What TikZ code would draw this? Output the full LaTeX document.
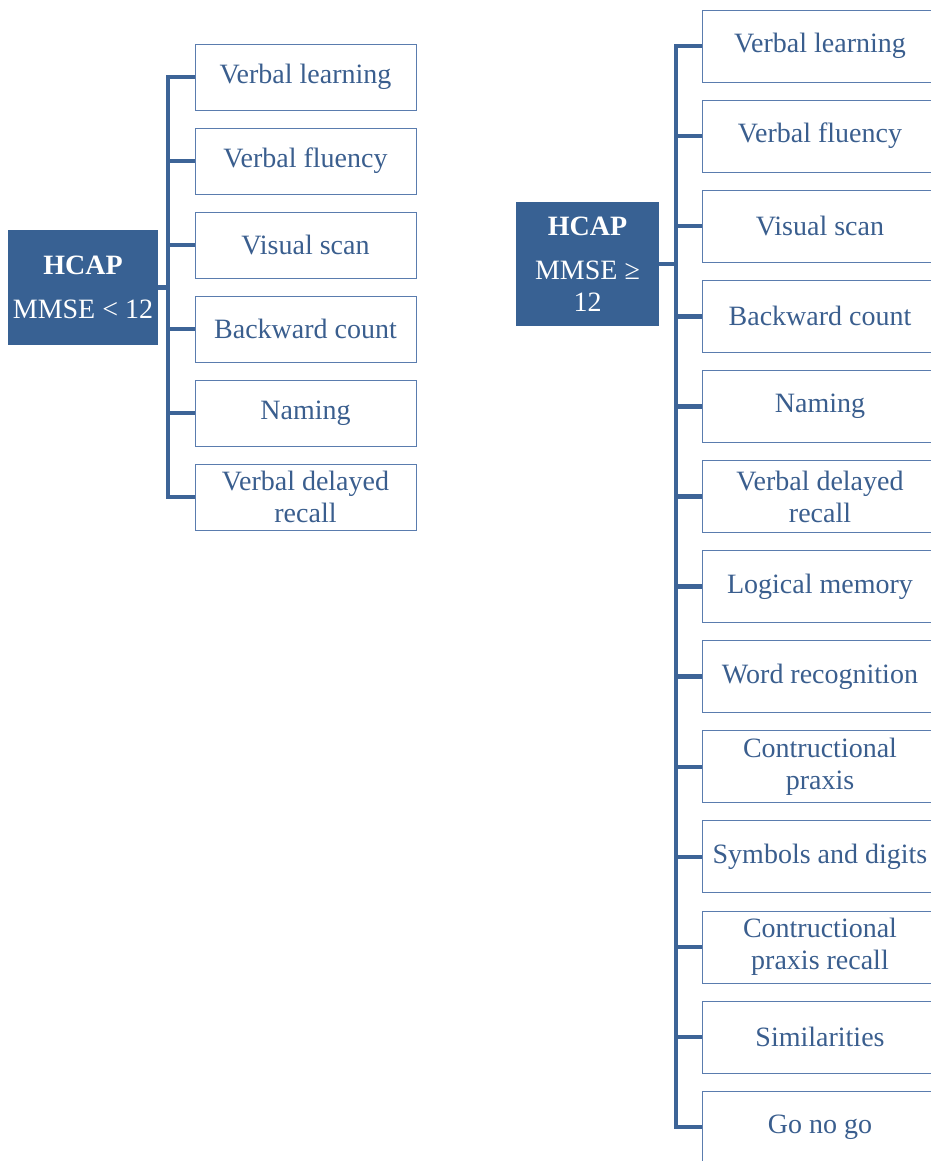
\documentclass[tikz,border=0pt]{standalone}
\usepackage{fontspec}
\setmainfont{Liberation Serif}
\usepackage{tikz}
\usetikzlibrary{positioning}
\definecolor{hcapfill}{HTML}{386193}
\definecolor{hcaptext}{HTML}{3A5E8E}
\definecolor{hcapline}{HTML}{3D6497}
\definecolor{hcapedge}{HTML}{5A7CAE}

\begin{document}
\begin{tikzpicture}[
x=1pt,y=1pt,
every node/.style={align=center,inner sep=0pt,font=\fontsize{28}{32}\selectfont},
root/.style={fill=hcapfill,text=white},
lbox/.style={draw=hcapedge,line width=0.9pt,text=hcaptext,minimum width=221pt,minimum height=66pt},
rbox/.style={draw=hcapedge,line width=0.9pt,text=hcaptext,minimum width=236pt,minimum height=72pt},
link/.style={draw=hcapline,line width=4.5pt}
]
\useasboundingbox (0,0) rectangle (930,-1161);

% left tree, MMSE < 12
\node (lroot) [root,minimum width=150pt,minimum height=115pt] at (83,-287.5) {\textbf{HCAP}\\[12pt]MMSE {<} 12};
\begin{scope}[node distance=17.1pt]
\node (l1) [lbox] at (305.5,-77) {Verbal learning};
\node (l2) [lbox,below=of l1] {Verbal fluency};
\node (l3) [lbox,below=of l2] {Visual scan};
\node (l4) [lbox,below=of l3] {Backward count};
\node (l5) [lbox,below=of l4] {Naming};
\node (l6) [lbox,below=of l5] {Verbal delayed\\recall};
\end{scope}

% right tree, MMSE >= 12
\node (rroot) [root,minimum width=143pt,minimum height=124pt] at (587.5,-264) {\textbf{HCAP}\\[12pt]MMSE ≥\\12};
\begin{scope}[node distance=17.2pt]
\node (r1) [rbox] at (820,-46) {Verbal learning};
\node (r2) [rbox,below=of r1] {Verbal fluency};
\node (r3) [rbox,below=of r2] {Visual scan};
\node (r4) [rbox,below=of r3] {Backward count};
\node (r5) [rbox,below=of r4] {Naming};
\node (r6) [rbox,below=of r5] {Verbal delayed\\recall};
\node (r7) [rbox,below=of r6] {Logical memory};
\node (r8) [rbox,below=of r7] {Word recognition};
\node (r9) [rbox,below=of r8] {Contructional\\praxis};
\node (r10) [rbox,below=of r9] {Symbols and digits};
\node (r11) [rbox,below=of r10] {Contructional\\praxis recall};
\node (r12) [rbox,below=of r11] {Similarities};
\node (r13) [rbox,below=of r12] {Go no go};
\end{scope}

\foreach \b in {l1,l2,l3,l4,l5,l6}
  \draw[link] (lroot.east) -- ++(10pt,0) |- (\b.west);
\foreach \b in {r1,r2,r3,r4,r5,r6,r7,r8,r9,r10,r11,r12,r13}
  \draw[link] (rroot.east) -- ++(17pt,0) |- (\b.west);
\end{tikzpicture}
\end{document}
